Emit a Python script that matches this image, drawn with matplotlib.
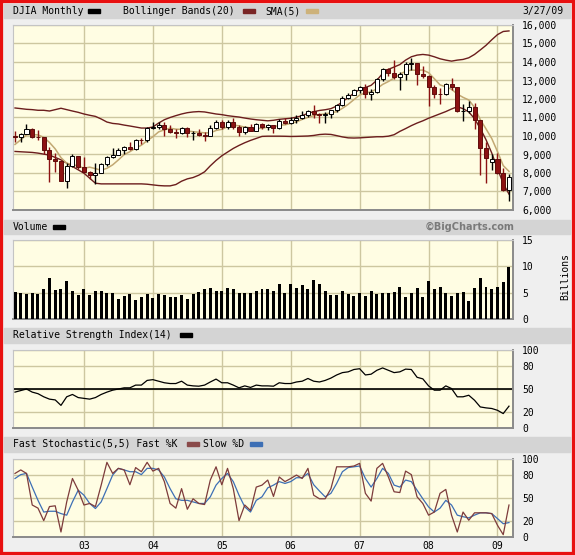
import numpy as np
import matplotlib
matplotlib.use("Agg")
import matplotlib.pyplot as plt
from matplotlib.patches import Rectangle

plt.rcParams['font.family'] = ['DejaVu Sans Mono']

# DJIA monthly bars, Jan 2002 .. Mar 2009
opens = [10021, 9920, 10106, 10404, 9946, 9925, 9243, 8737, 8664, 7592, 8397, 8896,
         8342, 8054, 7891, 7992, 8480, 8850, 8985, 9234, 9416, 9275, 9801, 9782,
         10454, 10488, 10584, 10358, 10226, 10188, 10435, 10140, 10174, 10080, 10027, 10428,
         10783, 10490, 10766, 10504, 10193, 10467, 10275, 10641, 10482, 10569, 10440, 10806,
         10718, 10865, 10993, 11109, 11367, 11168, 11150, 11186, 11381, 11679, 12081, 12222,
         12463, 12622, 12269, 12354, 13063, 13628, 13409, 13212, 13358, 13896, 13930, 13372,
         13265, 12650, 12266, 12263, 12820, 12638, 11350, 11378, 11544, 10851, 9325, 8600,
         8776, 8001, 7063]
highs = [10260, 10150, 10670, 10450, 10350, 9950, 9380, 9080, 8690, 8540, 9040, 8930,
         8870, 8110, 8520, 8520, 8900, 9340, 9330, 9470, 9690, 9820, 9900, 10460,
         10750, 10750, 10760, 10570, 10380, 10490, 10470, 10250, 10370, 10240, 10570, 10870,
         10850, 10840, 10980, 10610, 10560, 10640, 10720, 10720, 10650, 10580, 10940, 10990,
         11050, 11140, 11340, 11410, 11670, 11240, 11290, 11420, 11720, 12160, 12340, 12530,
         12700, 12800, 12520, 13160, 13690, 13700, 14120, 13480, 14000, 14200, 13950, 13800,
         13280, 12770, 12600, 12880, 13140, 12650, 11750, 11870, 11800, 10880, 9650, 9030,
         9090, 8280, 7930]
lows = [9700, 9650, 10100, 9900, 9800, 9050, 7532, 8040, 7550, 7200, 8300, 8230,
        7990, 7670, 7420, 7990, 8400, 8800, 8960, 9010, 9240, 9270, 9570, 9690,
        10360, 10380, 9990, 10170, 9900, 10100, 9920, 9780, 10010, 9710, 10010, 10400,
        10370, 10360, 10400, 10010, 10100, 10260, 10260, 10390, 10300, 10160, 10400, 10650,
        10660, 10700, 10930, 11000, 10990, 10700, 10680, 10950, 11290, 11640, 11980, 12200,
        12350, 12050, 11940, 12350, 12990, 13250, 13100, 12500, 13000, 13580, 12740, 13150,
        11630, 12070, 11730, 12200, 12480, 11290, 10830, 11250, 10360, 7880, 7450, 8150,
        7940, 7000, 6470]
closes = [9920, 10106, 10404, 9946, 9925, 9243, 8737, 8664, 7592, 8397, 8896, 8342,
          8054, 7891, 7992, 8480, 8850, 8985, 9234, 9416, 9275, 9801, 9782, 10454,
          10488, 10584, 10358, 10226, 10188, 10435, 10140, 10174, 10080, 10027, 10428, 10783,
          10490, 10766, 10504, 10193, 10467, 10275, 10641, 10482, 10569, 10440, 10806, 10718,
          10865, 10993, 11109, 11367, 11168, 11150, 11186, 11381, 11679, 12081, 12222, 12463,
          12622, 12269, 12354, 13063, 13628, 13409, 13212, 13358, 13896, 13930, 13372, 13265,
          12650, 12266, 12263, 12820, 12638, 11350, 11378, 11544, 10851, 9325, 8829, 8776,
          8001, 7063, 7776]

# Bollinger Bands(20) and SMA(5)
bb_upper = [11515, 11480, 11443, 11425, 11390, 11390, 11350, 11425, 11500, 11425, 11350, 11280,
            11190, 11120, 11060, 10920, 10755, 10680, 10650, 10590, 10540, 10485, 10430, 10430,
            10485, 10700, 10880, 11000, 11100, 11190, 11260, 11300, 11320, 11300, 11245, 11190,
            11155, 11100, 11060, 11025, 10970, 10920, 10880, 10850, 10820, 10850, 10900, 10930,
            10958, 11020, 11100, 11230, 11313, 11380, 11420, 11478, 11620, 11850, 12080, 12309,
            12520, 12620, 12740, 13015, 13380, 13600, 13730, 13861, 14102, 14282, 14373, 14409,
            14373, 14282, 14174, 14102, 14047, 14102, 14138, 14228, 14409, 14650, 14900, 15200,
            15480, 15650, 15680]
bb_lower = [9165, 9147, 9130, 9112, 9075, 9020, 8966, 8840, 8714, 8533, 8352, 8171,
            7990, 7720, 7448, 7412, 7412, 7412, 7412, 7412, 7412, 7412, 7412, 7394,
            7358, 7322, 7304, 7304, 7376, 7557, 7683, 7755, 7882, 8063, 8388, 8678,
            8930, 9130, 9328, 9491, 9636, 9762, 9870, 9979, 9990, 9990, 9990, 9985,
            9975, 9980, 9990, 10000, 10030, 10080, 10100, 10085, 10020, 9950, 9900, 9890,
            9900, 9920, 9940, 9960, 9960, 9990, 10070, 10250, 10400, 10560, 10700, 10820,
            10960, 11080, 11200, 11320, 11460, 11580, 11480, 11300, 10940, 10410, 9800, 9080,
            8230, 7430, 6860]
sma5 = [9543, 9795, 10061, 10080, 10060, 9925, 9651, 9303, 8832, 8527, 8457, 8378,
        8256, 8316, 8235, 8152, 8253, 8440, 8708, 8993, 9152, 9342, 9502, 9746,
        9960, 10222, 10333, 10422, 10369, 10358, 10269, 10233, 10203, 10171, 10170, 10298,
        10362, 10499, 10594, 10547, 10484, 10441, 10416, 10412, 10487, 10481, 10588, 10603,
        10680, 10764, 10898, 11010, 11100, 11157, 11196, 11250, 11313, 11495, 11710, 11965,
        12213, 12331, 12386, 12554, 12787, 12945, 13133, 13334, 13501, 13561, 13554, 13564,
        13423, 13097, 12763, 12653, 12527, 12267, 12090, 11946, 11552, 10890, 10385, 9865,
        9156, 8399, 8089]

# volume, billions of shares
volume = [5.06, 4.9, 4.75, 4.9, 4.75, 5.7, 7.8, 5.5, 5.7, 7.2, 5.4, 4.6,
          5.7, 4.6, 5.4, 5.25, 4.9, 4.9, 3.8, 4.4, 4.75, 3.6, 4.2, 4.75,
          4.0, 4.75, 4.6, 4.2, 4.2, 4.6, 3.8, 4.75, 5.06, 5.7, 5.9, 5.4,
          5.25, 5.9, 5.7, 4.9, 4.9, 4.9, 5.25, 5.7, 5.7, 5.25, 6.6, 5.0,
          6.7, 5.9, 6.5, 5.7, 7.4, 6.7, 5.4, 4.5, 4.5, 5.4, 4.8, 4.3,
          4.85, 4.3, 5.4, 4.8, 4.85, 5.0, 5.2, 6.1, 4.1, 4.85, 5.8, 4.1,
          7.2, 5.7, 6.1, 4.85, 4.3, 4.85, 5.2, 3.4, 5.9, 7.8, 6.1, 5.7,
          6.1, 7.0, 9.8]

rsi = [46, 48, 50, 46, 44, 40, 37, 36, 29, 40, 43, 39,
       38, 37, 39, 43, 46, 48.5, 50, 51.5, 51.5, 55, 55, 61,
       62, 60, 58, 57, 57, 60, 55, 54, 53.6, 55, 59, 62.7,
       58, 58, 55, 51.5, 54, 52, 55, 54, 54, 53.6, 58, 57,
       57, 59, 60, 63.5, 60, 59, 61, 64, 68, 71, 72, 75,
       76, 68, 69, 74, 77, 74, 71, 72, 75.5, 75, 65, 63,
       54, 48.5, 48.5, 54, 50.6, 40, 40, 42, 35.6, 27, 25.8, 25,
       22.7, 18.5, 28]

fast_k = [81.5, 86, 81.5, 41, 37, 21, 39, 40, 6.4, 45, 75, 60,
          41, 43, 39, 66.5, 95.7, 81.5, 88, 86, 67, 89, 83.7, 95.7,
          84.5, 88, 71, 43, 37, 62, 35.6, 49, 43, 41.6, 73, 90,
          67, 88, 62, 21, 41, 34, 64, 66.5, 73, 52, 77, 71,
          75, 79.4, 75, 88, 53.6, 49, 49, 62, 90, 90, 90, 91,
          94.4, 56, 46, 88, 94.4, 77, 58, 57, 84.5, 80, 51.5, 43,
          28, 32, 56, 61, 28, 6.4, 32, 21.5, 31, 31, 31, 30,
          15, 3, 41]
slow_d = [75, 80, 81.5, 64, 47, 32, 33, 33, 30, 28, 45, 60,
          53.6, 43, 36.5, 45, 62, 79.4, 88, 86, 83.7, 83.7, 80, 88,
          88, 86, 77, 62, 49, 47, 47, 45, 43, 43, 51.5, 66.5,
          75, 81.5, 71, 53.6, 38.6, 32, 47, 51.5, 63, 66.5, 71, 68.7,
          71, 76, 76, 81.5, 67, 59, 51.5, 56, 68.7, 83.7, 89, 90,
          91, 75, 64, 75, 88, 81.5, 66.5, 64, 73, 71, 60, 49,
          38.6, 32, 37, 47, 41, 28, 26, 24.5, 28, 31, 31, 30,
          23.6, 17, 18.5]

year_ticks = [12, 24, 36, 48, 60, 72, 84]
year_labels = ['03', '04', '05', '06', '07', '08', '09']
price_ticks = [6000, 7000, 8000, 9000, 10000, 11000, 12000, 13000, 14000, 15000, 16000]
price_labels = ['6,000', '7,000', '8,000', '9,000', '10,000', '11,000', '12,000',
                '13,000', '14,000', '15,000', '16,000']

W, H = 575, 555
BG = '#efefef'
PANEL = '#fffde3'
GRID = '#cdc7a0'
BAR = '#d4d4d4'
UPRED = '#8c1212'

fig = plt.figure(figsize=(W / 100, H / 100), dpi=100, facecolor=BG)


def px_axes(x0, y0, x1, y1):
    ax = fig.add_axes([x0 / W, 1 - y1 / H, (x1 - x0) / W, (y1 - y0) / H])
    ax.set_facecolor(PANEL)
    ax.set_xlim(-0.35, 86.7)
    ax.set_xticks(year_ticks)
    ax.grid(True, color=GRID, lw=1, zorder=0)
    ax.set_axisbelow(True)
    ax.yaxis.tick_right()
    ax.tick_params(length=0, labelsize=7, pad=6.5, colors='black')
    ax.tick_params(axis='x', labelbottom=False)
    for s in ('top', 'left'):
        ax.spines[s].set_color('#c4c4c4')
        ax.spines[s].set_linewidth(0.8)
    for s in ('right', 'bottom'):
        ax.spines[s].set_color('#8a8a8a')
        ax.spines[s].set_linewidth(1.4)
    return ax


def header(y0, y1):
    fig.patches.append(Rectangle((4 / W, 1 - y1 / H), 566 / W, (y1 - y0) / H,
                                 transform=fig.transFigure, color=BAR, zorder=0))


def swatch(x, y, color):
    fig.patches.append(Rectangle((x / W, 1 - (y + 2) / H), 12 / W, 4 / H,
                                 transform=fig.transFigure, color=color, zorder=2))


def label(x, y, s, **kw):
    fig.text(x / W, 1 - y / H, s, fontsize=7, va='center', **kw)


x = np.arange(len(closes))

# price panel
ax1 = px_axes(13, 25, 513, 210)
ax1.set_ylim(6000, 16000)
ax1.set_yticks(price_ticks)
ax1.set_yticklabels(price_labels)
ax1.plot(x, bb_upper, color='#6b1d1d', lw=1, zorder=2)
ax1.plot(x, bb_lower, color='#6b1d1d', lw=1, zorder=2)
ax1.plot(x, sma5, color='#c2a872', lw=1.1, zorder=3)
o = np.array(opens)
c = np.array(closes)
up = c >= o
wick_col = np.where(up, 'black', UPRED)
ax1.vlines(x, lows, highs, colors=wick_col, lw=1, zorder=4)
ax1.bar(x[up], np.maximum(c[up] - o[up], 25), bottom=o[up], width=0.7,
        color='white', edgecolor='black', lw=0.7, zorder=5)
ax1.bar(x[~up], np.maximum(o[~up] - c[~up], 25), bottom=c[~up], width=0.7,
        color=UPRED, edgecolor='#5e0c0c', lw=0.7, zorder=5)

# volume panel
ax2 = px_axes(13, 240, 513, 319)
ax2.set_ylim(0, 15)
ax2.set_yticks([0, 5, 10, 15])
ax2.bar(x, volume, width=0.52, color='black', zorder=3)

# RSI panel
ax3 = px_axes(13, 350, 513, 428)
ax3.set_ylim(0, 100)
ax3.set_yticks([0, 20, 50, 80, 100])
ax3.axhline(50, color='black', lw=1.2, zorder=2)
ax3.plot(x, rsi, color='black', lw=0.9, zorder=3)

# stochastic panel
ax4 = px_axes(13, 459, 513, 537)
ax4.set_ylim(0, 100)
ax4.set_yticks([0, 20, 50, 80, 100])
ax4.plot(x, slow_d, color='#3d6fb5', lw=0.9, zorder=3)
ax4.plot(x, fast_k, color='#7d3b3b', lw=0.9, zorder=4)
ax4.tick_params(axis='x', labelbottom=True, pad=3)
ax4.set_xticklabels(year_labels)

# header strips and legends
header(4, 18)
label(13, 11, 'DJIA Monthly')
swatch(88, 11, 'black')
label(123, 11, 'Bollinger Bands(20)')
swatch(243, 11, '#7a2626')
label(265, 11, 'SMA(5)')
swatch(306, 11, '#cdb27a')
label(563, 11, '3/27/09', ha='right')

header(220, 234)
label(13, 227, 'Volume')
swatch(53, 227, 'black')
label(514, 227, '\u00a9BigCharts.com', ha='right', color='#7a7a7a', fontweight='bold',
      family='DejaVu Sans')

header(328, 343)
label(13, 335, 'Relative Strength Index(14)')
swatch(180, 335, 'black')

header(437, 452)
label(13, 444, 'Fast Stochastic(5,5) Fast %K')
swatch(187, 444, '#8a4a4a')
label(203, 444, 'Slow %D')
swatch(250, 444, '#3d6fb5')

fig.text(565 / W, 1 - 277 / H, 'Billions', rotation=90, fontsize=7, ha='center', va='center')

# red frame
fig.patches.append(Rectangle((0, 0), 1, 1, transform=fig.transFigure, fill=False,
                             edgecolor='#e81010', lw=4.5, zorder=10))

fig.savefig('out.png', dpi=100, facecolor=BG)
